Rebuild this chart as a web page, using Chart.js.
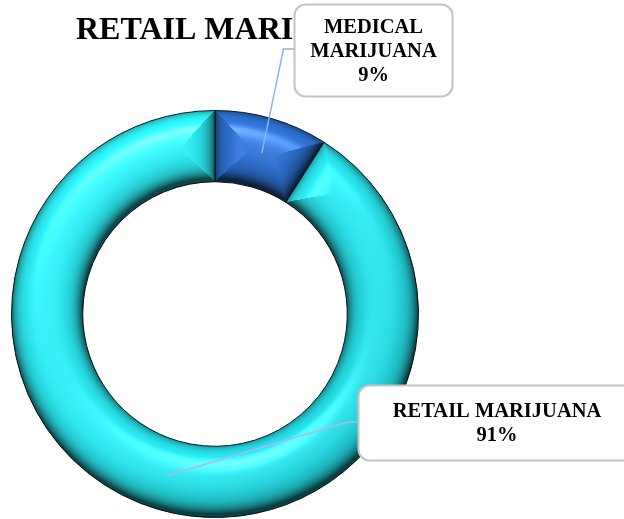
<!DOCTYPE html>
<html>
<head>
<meta charset="utf-8">
<script src="https://cdn.jsdelivr.net/npm/chart.js@4.4.1/dist/chart.umd.min.js"></script>
<style>
  html, body { margin: 0; padding: 0; background: #ffffff; overflow: hidden; }
  canvas { display: block; }
</style>
</head>
<body>
<canvas id="chart" width="624" height="519"></canvas>
<script>
// Share of marijuana sales by type (percent)
const categories = ['MEDICAL MARIJUANA', 'RETAIL MARIJUANA'];
const shares = [9, 91];
const chartTitle = 'RETAIL MARIJUANA';

const leaderColors = ['#8DB4E8', '#B4B4EC'];

// Callout boxes (x, y, width, height) and the height of each leader elbow
const calloutBoxes = [
  { x: 294.5, y: 4.5, w: 158, h: 92, elbowY: 49 },
  { x: 358.5, y: 385.5, w: 277, h: 75, elbowY: 422 }
];

const serif = "'Liberation Serif', 'Times New Roman', serif";

// Slice fills: solid blue, and a cyan that dims slightly towards the lower right
function sliceFill(context) {
  if (context.dataIndex === 0) return '#2F72D4';
  const area = context.chart.chartArea;
  if (!area) return '#2CEBF2';
  const g = context.chart.ctx.createLinearGradient(area.left, area.top, area.right, area.bottom);
  g.addColorStop(0, '#30F3F9');
  g.addColorStop(0.5, '#2BE8F0');
  g.addColorStop(1, '#1FCBD3');
  return g;
}

// Gives the flat ring a rounded, lit tube look with bevelled slice ends
const tubeShading = {
  id: 'tubeShading',
  afterDatasetsDraw(chart) {
    const arcs = chart.getDatasetMeta(0).data;
    if (!arcs.length) return;
    const p = arcs[0].getProps(['x', 'y', 'innerRadius', 'outerRadius'], true);
    const cx = p.x, cy = p.y, ri = p.innerRadius, ro = p.outerRadius;
    const ctx = chart.ctx;
    const x0 = Math.max(0, Math.floor(cx - ro - 3));
    const y0 = Math.max(0, Math.floor(cy - ro - 3));
    const x1 = Math.min(chart.width, Math.ceil(cx + ro + 3));
    const y1 = Math.min(chart.height, Math.ceil(cy + ro + 3));
    const w = x1 - x0, h = y1 - y0;
    const img = ctx.getImageData(x0, y0, w, h);
    const d = img.data;
    const rm = (ri + ro) / 2, hw = (ro - ri) / 2;
    const spans = arcs.map(a => ({ s: a.startAngle, e: a.endAngle }));

    let L = [-0.1, -0.45, 0.88];
    const ln = Math.hypot(L[0], L[1], L[2]);
    L = L.map(v => v / ln);
    let H = [L[0], L[1], L[2] + 1];
    const hn = Math.hypot(H[0], H[1], H[2]);
    H = H.map(v => v / hn);
    const amb = 0.3, dif = 0.75, ks = 0.3;
    const TWO_PI = Math.PI * 2;
    const start0 = spans[0].s;

    for (let py = 0; py < h; py++) {
      for (let px = 0; px < w; px++) {
        const i = (py * w + px) * 4;
        if (d[i + 3] === 0) continue;
        const dx = x0 + px + 0.5 - cx, dy = y0 + py + 0.5 - cy;
        const r = Math.hypot(dx, dy);
        if (r < ri - 2 || r > ro + 2) continue;
        const t = Math.max(-1, Math.min(1, (r - rm) / hw));
        const u = 1 - Math.abs(t);
        const phi = Math.atan2(dy, dx);
        let a = phi;
        while (a < start0) a += TWO_PI;
        while (a >= start0 + TWO_PI) a -= TWO_PI;
        let sp = spans[spans.length - 1];
        for (const s of spans) { if (a >= s.s && a < s.e) { sp = s; break; } }
        const v1 = (a - sp.s) * r / hw, v2 = (sp.e - a) * r / hw;
        const vmin = Math.min(v1, v2);
        let dirx, diry, tilt;
        if (spans.length > 1 && vmin < u) {
          const sign = v1 < v2 ? -1 : 1;
          dirx = -Math.sin(phi) * sign;
          diry = Math.cos(phi) * sign;
          const x = 1 - vmin;
          tilt = 0.25 * x + 1.15 * x * x * x;
        } else {
          const sign = t >= 0 ? 1 : -1;
          dirx = Math.cos(phi) * sign;
          diry = Math.sin(phi) * sign;
          const x = Math.abs(t);
          tilt = 0.15 * x + 1.35 * x * x * x;
        }
        const st = Math.sin(tilt);
        const nx = dirx * st, ny = diry * st, nz = Math.cos(tilt);
        const ndl = nx * L[0] + ny * L[1] + nz * L[2];
        const ndh = nx * H[0] + ny * H[1] + nz * H[2];
        const I = amb + dif * Math.max(0, ndl);
        const spec = ks * Math.pow(Math.max(0, ndh), 60) * 255;
        d[i] = Math.min(255, d[i] * I + spec);
        d[i + 1] = Math.min(255, d[i + 1] * I + spec);
        d[i + 2] = Math.min(255, d[i + 2] * I + spec);
      }
    }
    ctx.putImageData(img, x0, y0);
  }
};

function roundRectPath(ctx, x, y, w, h, r) {
  ctx.beginPath();
  ctx.moveTo(x + r, y);
  ctx.arcTo(x + w, y, x + w, y + h, r);
  ctx.arcTo(x + w, y + h, x, y + h, r);
  ctx.arcTo(x, y + h, x, y, r);
  ctx.arcTo(x, y, x + w, y, r);
  ctx.closePath();
}

function wrapWords(ctx, text, maxWidth) {
  const words = text.split(' ');
  const lines = [];
  let line = '';
  for (const wd of words) {
    const test = line ? line + ' ' + wd : wd;
    if (line && ctx.measureText(test).width > maxWidth) {
      lines.push(line);
      line = wd;
    } else {
      line = test;
    }
  }
  if (line) lines.push(line);
  return lines;
}

// Title, leader lines and callout boxes
const callouts = {
  id: 'callouts',
  afterDraw(chart) {
    const ctx = chart.ctx;
    ctx.save();
    ctx.fillStyle = '#000000';
    ctx.font = 'bold 32px ' + serif;
    ctx.textAlign = 'left';
    ctx.textBaseline = 'alphabetic';
    ctx.fillText(chartTitle, 76, 39);

    const arcs = chart.getDatasetMeta(0).data;
    const values = chart.data.datasets[0].data;
    const total = values.reduce((s, v) => s + v, 0);

    arcs.forEach((arc, k) => {
      const box = calloutBoxes[k];
      const pos = arc.tooltipPosition(true);
      ctx.strokeStyle = leaderColors[k];
      ctx.lineWidth = 1.5;
      ctx.beginPath();
      ctx.moveTo(pos.x, pos.y);
      ctx.lineTo(box.x - 11, box.elbowY);
      ctx.lineTo(box.x, box.elbowY);
      ctx.stroke();
    });

    arcs.forEach((arc, k) => {
      const box = calloutBoxes[k];
      roundRectPath(ctx, box.x, box.y, box.w, box.h, 11);
      ctx.fillStyle = '#ffffff';
      ctx.fill();
      ctx.strokeStyle = '#C4C4C4';
      ctx.lineWidth = 2;
      ctx.stroke();

      ctx.fillStyle = '#000000';
      ctx.font = 'bold 20.5px ' + serif;
      ctx.textAlign = 'center';
      ctx.textBaseline = 'middle';
      const pct = Math.round(values[k] / total * 100) + '%';
      const lines = wrapWords(ctx, chart.data.labels[k], box.w - 20).concat([pct]);
      const lh = 24;
      const cx = box.x + box.w / 2;
      const cy = box.y + box.h / 2;
      lines.forEach((ln, j) => {
        ctx.fillText(ln, cx, cy + (j - (lines.length - 1) / 2) * lh + 1);
      });
    });
    ctx.restore();
  }
};

new Chart(document.getElementById('chart'), {
  type: 'doughnut',
  data: {
    labels: categories,
    datasets: [{
      data: shares,
      backgroundColor: sliceFill,
      borderColor: '#0B2A38',
      borderWidth: 1
    }]
  },
  options: {
    responsive: false,
    devicePixelRatio: 1,
    animation: false,
    cutout: '65%',
    layout: { padding: { left: 11, right: 205, top: 110, bottom: 1 } },
    plugins: {
      legend: { display: false },
      title: { display: false },
      tooltip: { enabled: false }
    }
  },
  plugins: [tubeShading, callouts]
});
</script>
</body>
</html>
